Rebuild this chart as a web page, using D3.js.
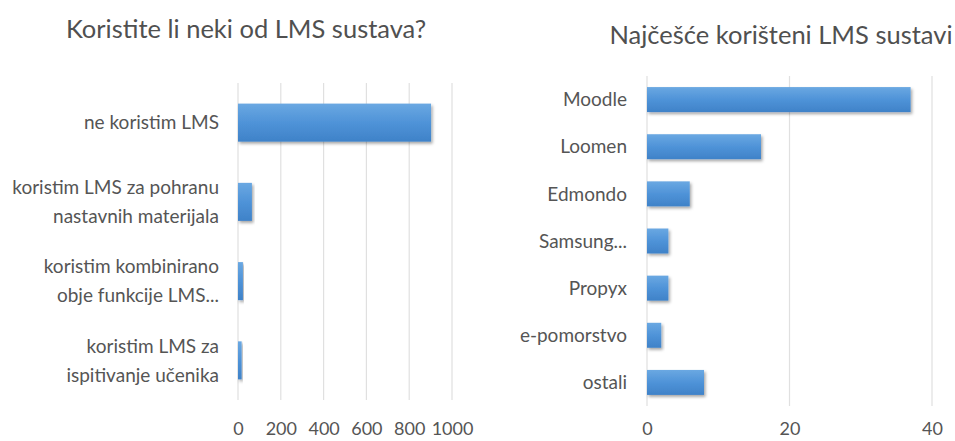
<!DOCTYPE html>
<html><head><meta charset="utf-8">
<script src="https://cdn.jsdelivr.net/npm/d3@7"></script>
<style>body{margin:0;background:#fff}svg{display:block}</style>
</head><body>
<svg id="c" width="955" height="441"></svg>
<script>
const leftTitle = "Koristite li neki od LMS sustava?";
const leftCategories = [
  ["ne koristim LMS"],
  ["koristim LMS za pohranu", "nastavnih materijala"],
  ["koristim kombinirano", "obje funkcije LMS..."],
  ["koristim LMS za", "ispitivanje učenika"]
];
const leftValues = [902, 65, 23, 17];
const leftTicks = [0, 200, 400, 600, 800, 1000];

const rightTitle = "Najčešće korišteni LMS sustavi";
const rightCategories = ["Moodle", "Loomen", "Edmondo", "Samsung...", "Propyx", "e-pomorstvo", "ostali"];
const rightValues = [37, 16, 6, 3, 3, 2, 8];
const rightTicks = [0, 20, 40];

const svg = d3.select("#c");
const FONT = "Lato, 'Open Sans', sans-serif";
const TXT = "#555";

const defs = svg.append("defs");
const grad = defs.append("linearGradient").attr("id","bg").attr("x1",0).attr("y1",0).attr("x2",0).attr("y2",1);
grad.append("stop").attr("offset","0%").attr("stop-color","#6aa8e2");
grad.append("stop").attr("offset","50%").attr("stop-color","#4f93d8");
grad.append("stop").attr("offset","100%").attr("stop-color","#3f82c8");
const f = defs.append("filter").attr("id","sh").attr("x","-10%").attr("y","-20%").attr("width","130%").attr("height","160%");
f.append("feDropShadow").attr("dx",1.5).attr("dy",2).attr("stdDeviation",1.5).attr("flood-color","#000").attr("flood-opacity",0.35);

function chart(o){
  const g = svg.append("g");
  const x = d3.scaleLinear().domain(o.domain).range([o.x0, o.x1]);
  const y = d3.scaleBand().domain(o.cats.map((d,i)=>i)).range([o.y0, o.y1]).paddingInner(o.pad).paddingOuter(o.pad/2);
  g.append("g").selectAll("line").data(o.ticks).join("line")
    .attr("x1",d=>x(d)).attr("x2",d=>x(d)).attr("y1",o.y0).attr("y2",o.y1)
    .attr("stroke","#e0e0e0").attr("stroke-width",1.2);
  const ax = g.append("g").attr("transform",`translate(0,${o.tickY})`)
    .call(d3.axisBottom(x).tickValues(o.ticks).tickFormat(d3.format("d")).tickSize(0).tickPadding(0));
  ax.select(".domain").remove();
  ax.selectAll("text").attr("font-family",FONT).attr("font-size",o.tickFont).attr("fill",TXT).attr("dy","0.35em");
  g.append("g").selectAll("rect").data(o.vals).join("rect")
    .attr("x",x(0)).attr("y",(d,i)=>y(i)).attr("width",d=>x(d)-x(0)).attr("height",y.bandwidth())
    .attr("fill","url(#bg)").attr("filter","url(#sh)");
  const lab = g.append("g").selectAll("text").data(o.cats).join("text")
    .attr("x",o.labX).attr("text-anchor","end").attr("font-family",FONT).attr("font-size",o.labFont).attr("fill",TXT);
  lab.each(function(d,i){
    const lines = Array.isArray(d)?d:[d];
    const cy = y(i)+y.bandwidth()/2;
    const t = d3.select(this);
    lines.forEach((l,k)=>{
      t.append("tspan").attr("x",o.labX).attr("y",cy+(k-(lines.length-1)/2)*o.lineH).attr("dy","0.35em").text(l);
    });
  });
  g.append("text").attr("x",o.titleX).attr("y",o.titleY).attr("text-anchor","middle")
    .attr("font-family",FONT).attr("font-size",o.titleFont).attr("fill","#505050").text(o.title);
}

chart({title:leftTitle, cats:leftCategories, vals:leftValues, ticks:leftTicks, domain:[0,1000],
  x0:238, x1:452, y0:83, y1:400, pad:0.52, tickY:429, tickFont:18, labX:219, labFont:19, lineH:29,
  titleX:246, titleY:38, titleFont:25.5});
chart({title:rightTitle, cats:rightCategories, vals:rightValues, ticks:rightTicks, domain:[0,40],
  x0:647, x1:932, y0:76, y1:406, pad:0.47, tickY:429, tickFont:18, labX:627, labFont:19, lineH:29,
  titleX:781, titleY:44, titleFont:25.5});
</script>
</body></html>
